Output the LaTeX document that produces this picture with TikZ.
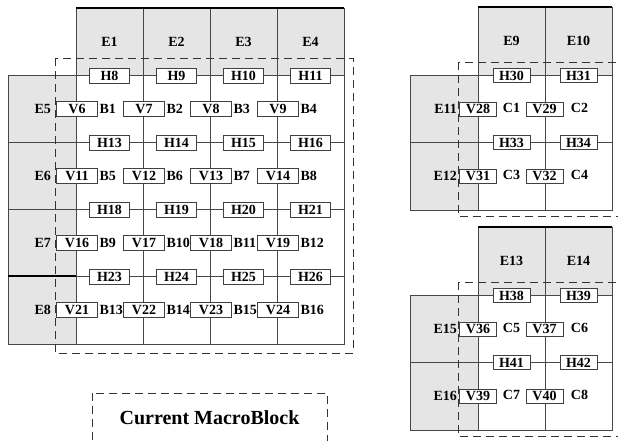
\documentclass[tikz,border=0pt]{standalone}
\usepackage{fontspec}
\setmainfont{Liberation Serif}
\usetikzlibrary{positioning}

\begin{document}
\begin{tikzpicture}[x=1pt,y=-1pt,
  grid/.style={draw=black!72,line width=0.8pt},
  shade/.style={fill=black!10},
  edge/.style={black,line width=1.8pt},
  mbline/.style={draw=black!80,line width=0.9pt,dash pattern=on 8pt off 5pt},
  txt/.style={font=\bfseries\fontsize{14}{16}\selectfont,inner sep=1pt},
  lbox/.style={txt,draw=black!75,fill=white,line width=0.8pt,minimum width=40pt,minimum height=15pt,inner sep=0pt},
  rbox/.style={lbox,minimum width=37pt,minimum height=14pt}]
\useasboundingbox (0,0) rectangle (618,440);
% left 4x4 block
\fill[shade] (76,8) rectangle (344,75);
\fill[shade] (8,75) rectangle (76,344);
\draw[grid] (76,8) rectangle (344,344);
\draw[grid] (8,75) rectangle (76,344);
\foreach \y in {75,142,209,276}
  \draw[grid] (8,\y)--(344,\y);
\foreach \x in {143,210,277}
  \draw[grid] (\x,8)--(\x,344);
\draw[edge] (76,8)--(344,8);
\draw[black,line width=1.4pt] (8,276)--(76,276);
\draw[mbline] (55,58) rectangle (353,353);
\foreach \r in {0,...,3}{
  \foreach \c in {0,...,3}{
    \pgfmathtruncatemacro\hn{8+5*\r+\c}
    \pgfmathtruncatemacro\vn{6+5*\r+\c}
    \pgfmathtruncatemacro\bn{1+4*\r+\c}
    \node[lbox] (h\hn) at ({109.5+67*\c},{75.5+67*\r}) {H\hn};
    \node[lbox,minimum width=41pt] (v\vn) at ({77+67*\c},{109+67*\r}) {V\vn};
    \node[txt,inner sep=0pt,right=1.5pt of v\vn] (b\bn) {B\bn};}}
\foreach \c/\n in {0/1,1/2,2/3,3/4}
  \node[txt] (e\n) at ({109.5+67*\c},42) {E\n};
\foreach \n/\v in {5/6,6/11,7/16,8/21}
  \node[txt,left=4pt of v\v] (e\n) {E\n};
% right 2x2 blocks
\foreach \k/\oy in {0/0,1/220}{
  \fill[shade] (478,7+\oy) rectangle (612,75+\oy);
  \fill[shade] (410,75+\oy) rectangle (478,210+\oy);
  \draw[grid] (478,7+\oy) rectangle (612,210+\oy);
  \draw[grid] (410,75+\oy) rectangle (478,210+\oy);
  \draw[grid] (410,75+\oy)--(612,75+\oy);
  \draw[grid] (410,142+\oy)--(612,142+\oy);
  \draw[grid] (545,7+\oy)--(545,210+\oy);
  \draw[edge] (478,7+\oy)--(612,7+\oy);
  \draw[mbline] (458,62+\oy) rectangle (630,216+\oy);
  \foreach \r in {0,1}{
    \foreach \c in {0,1}{
      \pgfmathtruncatemacro\hn{30+8*\k+3*\r+\c}
      \pgfmathtruncatemacro\vn{28+8*\k+3*\r+\c}
      \pgfmathtruncatemacro\cn{1+4*\k+2*\r+\c}
      \node[rbox] (h\hn) at ({511.5+67*\c},{75.5+67*\r+\oy}) {H\hn};
      \node[rbox] (v\vn) at ({478+66.5*\c},{109+67*\r+\oy}) {V\vn};
      \node[txt] (c\cn) at ({511.5+68*\c},{108+67*\r+\oy}) {C\cn};}}
  \pgfmathtruncatemacro\ea{9+4*\k}
  \pgfmathtruncatemacro\eb{10+4*\k}
  \pgfmathtruncatemacro\ec{11+4*\k}
  \pgfmathtruncatemacro\ed{12+4*\k}
  \pgfmathtruncatemacro\va{28+8*\k}
  \pgfmathtruncatemacro\vb{31+8*\k}
  \node[txt] (e\ea) at (511.5,41+\oy) {E\ea};
  \node[txt] (e\eb) at (578.5,41+\oy) {E\eb};
  \node[txt,left=1pt of v\va] (e\ec) {E\ec};
  \node[txt,left=1pt of v\vb] (e\ed) {E\ed};}
% legend
\draw[mbline] (92,393) rectangle (327,450);
\node[font=\bfseries\fontsize{20}{24}\selectfont] (legend) at (209.5,418) {Current MacroBlock};
\end{tikzpicture}
\end{document}
